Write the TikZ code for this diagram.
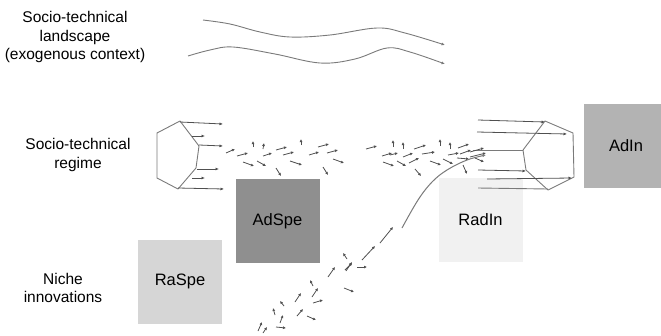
\documentclass[tikz,border=0pt]{standalone}
\usepackage{fontspec}
\setmainfont{Liberation Sans}
\usetikzlibrary{arrows.meta}
\definecolor{linec}{HTML}{7A7A7A}
\definecolor{arrc}{HTML}{505050}
\definecolor{cAdSpe}{HTML}{8F8F8F}
\definecolor{cRaSpe}{HTML}{D6D6D6}
\definecolor{cRadIn}{HTML}{F1F1F1}
\definecolor{cAdIn}{HTML}{B3B3B3}
\tikzset{
  sidelabel/.style={align=center, font=\fontsize{15.5}{18.5}\selectfont, inner sep=0pt},
  box/.style={draw=none, minimum width=84pt, minimum height=84pt, inner sep=0pt, font=\fontsize{16.5}{19}\selectfont},
  wave/.style={draw=linec, line width=0.9pt, -{Latex[length=3.5pt,width=3pt]}},
  hexline/.style={draw=linec, line width=0.9pt, line join=round},
  hexarr/.style={draw=arrc, line width=0.8pt, -{Latex[length=3.5pt,width=3pt]}},
  sarr/.style={draw=arrc, line width=0.8pt, -{Latex[length=3pt,width=3pt]}},
  curve/.style={draw=linec, line width=1pt}
}
\begin{document}
\begin{tikzpicture}[x=1pt,y=-1pt]
\useasboundingbox (0,0) rectangle (661,335);

% side labels
\node[sidelabel] (land) at (75,37) {Socio-technical\\landscape\\(exogenous context)};
\node[sidelabel] (reg) at (78,155) {Socio-technical\\regime};
\node[sidelabel] (niche) at (63,288) {Niche\\innovations};

% boxes
\node[box, fill=cRaSpe] (raspe) at (180,281.5) {RaSpe};
\node[box, fill=cAdSpe] (adspe) at (277.5,221) {AdSpe};
\node[box, fill=cRadIn] (radin) at (480.5,220) {RadIn};
\node[box, fill=cAdIn] (adin) at (626,146) {AdIn};

% landscape waves
\draw[wave] plot[smooth, tension=0.6] coordinates {(203,20) (230,24) (260,32) (290,37) (330,35) (377,28) (405,33) (445,45)};
\draw[wave] plot[smooth, tension=0.6] coordinates {(188,56) (210,50) (233,47) (275,54) (320,63) (355,59) (387,48) (410,52) (445,64)};

% left regime hexagon
\draw[hexline] (180,121) -- (199,146) -- (196,168) -- (178,189) -- (157,178) -- (157,133) -- cycle;
\draw[hexarr] (180,122) -- (223,124);
\draw[hexarr] (192,136) -- (205,136);
\draw[hexarr] (199,145) -- (223,146);
\draw[hexarr] (197,169) -- (219,169);
\draw[hexarr] (192,178) -- (205,178);
\draw[hexarr] (178,188) -- (224,189);

% right regime hexagon
\draw[hexline] (545,121) -- (573,133) -- (574,177) -- (548,190) -- (526,170) -- (523,150) -- cycle;
\draw[hexarr] (478,120) -- (545,122);
\draw[hexarr] (477,132) -- (567,134);
\draw[hexline] (473,150) -- (523,150);
\draw[hexarr] (478,170) -- (526,171);
\draw[hexarr] (487,179) -- (572,178);
\draw[hexline] (478,188) -- (548,189);

% left cluster of small arrows
\foreach \a/\b/\c/\d in {
  226/153/235/149, 237/156/248/153, 253/147/253/141, 263/149/264/143,
  263/156/272/153, 276/150/287/147, 283/155/294/152, 301/145/301/139,
  309/155/319/152, 318/147/329/144, 327/153/338/150, 333/159/344/163,
  243/162/254/166, 257/161/266/166, 290/161/302/165, 276/168/281/176,
  323/167/328/175}
  \draw[sarr] (\a,\b) -- (\c,\d);

% right cluster of small arrows
\foreach \a/\b/\c/\d in {
  366/149/377/146, 393/147/393/140, 403/149/403/142, 414/149/426/145,
  440/146/440/139, 450/149/450/142, 458/148/469/144,
  382/156/392/153, 390/155/398/153, 403/157/413/153, 422/154/435/152,
  448/155/459/153, 460/154/471/150, 470/152/484/148,
  383/162/394/166, 397/161/406/166, 409/163/419/158, 430/161/441/165,
  443/159/453/164, 457/158/469/159, 470/157/486/153, 475/158/484/162,
  415/169/421/176, 463/165/467/174}
  \draw[sarr] (\a,\b) -- (\c,\d);

% niche -> regime curve
\draw[curve, -{Latex[length=3.5pt,width=3pt]}] plot[smooth, tension=0.6] coordinates {(402,228) (418,200) (432,182) (447,170) (467,160) (486,155)};
\draw[sarr] (380,243) -- (393,227);
\draw[sarr] (362,260) -- (375,246);

% niche cluster of small arrows
\foreach \a/\b/\c/\d in {
  347/259/343/253, 346/271/352/262, 328/277/335/267, 344/288/354/292,
  313/286/310/280, 312/297/318/288, 295/302/301/293, 313/303/323/300,
  284/306/280/301, 297/316/303/309, 275/315/273/308, 307/316/316/320,
  280/323/283/315, 258/331/262/322, 276/327/286/328, 263/333/267/327,
  357/267/367/267, 345/270/352/263}
  \draw[sarr] (\a,\b) -- (\c,\d);

\end{tikzpicture}
\end{document}
